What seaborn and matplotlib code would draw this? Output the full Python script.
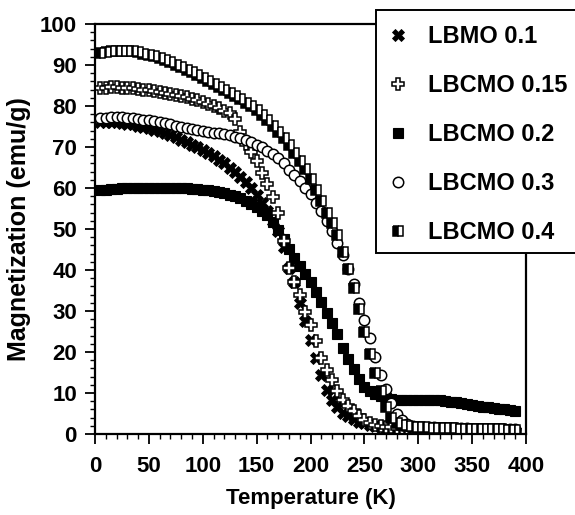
import matplotlib
matplotlib.use("Agg")
import matplotlib.pyplot as plt
from matplotlib.patches import Rectangle
from matplotlib.ticker import MultipleLocator
import seaborn as sns

# ---- data ----
temperature = [5, 10, 15, 20, 25, 30, 35, 40, 45, 50,
               55, 60, 65, 70, 75, 80, 85, 90, 95, 100,
               105, 110, 115, 120, 125, 130, 135, 140, 145, 150,
               155, 160, 165, 170, 175, 180, 185, 190, 195, 200,
               205, 210, 215, 220, 225, 230, 235, 240, 245, 250,
               255, 260, 265, 270, 275, 280, 285, 290, 295, 300,
               305, 310, 315, 320, 325, 330, 335, 340, 345, 350,
               355, 360, 365, 370, 375, 380, 385, 390]

lbmo_01 = [76.0, 76.1, 76.1, 76.0, 75.9, 75.7, 75.5, 75.2, 74.9, 74.6,
           74.2, 73.8, 73.4, 72.9, 72.4, 71.8, 71.2, 70.6, 69.9, 69.2,
           68.5, 67.7, 66.9, 66.0, 65.0, 64.0, 62.8, 61.5, 60.0, 58.3,
           56.4, 54.3, 52.0, 49.5, 45.5, 40.5, 37.0, 32.0, 27.5, 23.0,
           18.5, 14.3, 10.8, 8.3, 6.5, 5.2, 4.3, 3.6, 3.0, 2.6,
           2.2, 1.9, 1.7, 1.5, 1.4, 1.3, 1.2, 1.2, 1.1, 1.1,
           1.1, 1.0, 1.0, 1.0, 1.0, 0.9, 0.9, 0.9, 0.9, 0.9,
           0.9, 0.8, 0.8, 0.8, 0.8, 0.8, 0.8, 0.8]

lbcmo_015 = [84.3, 84.5, 84.6, 84.6, 84.5, 84.4, 84.3, 84.2, 84.0, 83.8,
             83.6, 83.4, 83.2, 83.0, 82.7, 82.4, 82.1, 81.8, 81.4, 81.0,
             80.6, 80.1, 79.5, 78.8, 78.2, 76.8, 73.6, 70.8, 68.8, 66.5,
             63.6, 61.0, 57.8, 54.0, 47.0, 40.5, 37.0, 34.0, 29.8, 26.5,
             22.8, 18.5, 15.6, 13.2, 10.5, 8.3, 6.8, 5.5, 4.5, 3.5,
             2.8, 2.3, 2.0, 1.8, 1.6, 1.5, 1.4, 1.4, 1.3, 1.3,
             1.3, 1.2, 1.2, 1.2, 1.1, 1.1, 1.1, 1.0, 1.0, 1.0,
             1.0, 0.9, 0.9, 0.9, 0.9, 0.9, 0.8, 0.8]

lbcmo_02 = [59.5, 59.6, 59.7, 59.8, 59.9, 59.9, 60.0, 60.0, 60.0, 60.0,
            60.0, 60.0, 60.0, 60.0, 60.0, 59.9, 59.9, 59.8, 59.7, 59.6,
            59.5, 59.3, 59.0, 58.7, 58.4, 58.0, 57.5, 56.9, 56.2, 55.4,
            54.5, 53.3, 51.8, 49.8, 47.5, 45.2, 43.0, 41.0, 39.0, 37.0,
            34.6, 32.2, 29.5, 27.0, 24.3, 21.0, 18.4, 15.8, 13.5, 11.5,
            10.4, 9.8, 9.2, 8.8, 8.5, 8.3, 8.2, 8.2, 8.2, 8.3,
            8.3, 8.3, 8.3, 8.2, 8.1, 7.9, 7.7, 7.5, 7.3, 7.1,
            6.9, 6.7, 6.5, 6.3, 6.1, 6.0, 5.8, 5.7]

lbcmo_03 = [77.0, 77.1, 77.2, 77.2, 77.2, 77.1, 77.0, 76.9, 76.7, 76.5,
            76.3, 76.0, 75.8, 75.5, 75.2, 74.9, 74.6, 74.4, 74.1, 73.9,
            73.7, 73.5, 73.3, 73.2, 72.9, 72.5, 72.1, 71.7, 71.2, 70.6,
            69.9, 69.1, 68.2, 67.2, 66.0, 64.5, 63.1, 61.6, 60.1, 58.5,
            56.4, 54.4, 52.0, 49.5, 46.7, 43.6, 40.3, 36.5, 32.0, 27.8,
            23.4, 18.8, 14.5, 11.0, 7.5, 5.0, 3.3, 2.5, 2.0, 1.8,
            1.7, 1.6, 1.6, 1.5, 1.5, 1.5, 1.4, 1.4, 1.4, 1.3,
            1.3, 1.3, 1.2, 1.2, 1.2, 1.1, 1.1, 1.1]

lbcmo_04 = [92.9, 93.1, 93.3, 93.4, 93.5, 93.4, 93.3, 93.1, 92.8, 92.5,
            92.1, 91.7, 91.2, 90.7, 90.1, 89.5, 88.9, 88.2, 87.5, 86.8,
            86.1, 85.4, 84.7, 84.0, 83.2, 82.4, 81.6, 80.8, 79.9, 79.0,
            77.9, 76.6, 75.2, 73.7, 72.1, 70.4, 68.6, 66.7, 64.6, 62.3,
            59.6, 56.8, 54.0, 51.5, 48.5, 44.5, 40.2, 35.5, 30.5, 25.0,
            19.5, 15.0, 10.5, 6.5, 4.0, 2.8, 2.2, 1.9, 1.7, 1.6,
            1.6, 1.5, 1.5, 1.4, 1.4, 1.4, 1.3, 1.3, 1.3, 1.2,
            1.2, 1.2, 1.1, 1.1, 1.1, 1.0, 1.0, 1.0]

labels = ["LBMO 0.1", "LBCMO 0.15", "LBCMO 0.2", "LBCMO 0.3", "LBCMO 0.4"]
x_ticks = [0, 50, 100, 150, 200, 250, 300, 350, 400]
y_ticks = [0, 10, 20, 30, 40, 50, 60, 70, 80, 90, 100]

# ---- style ----
sns.set_theme(style="ticks")
plt.rcParams["font.family"] = ["Liberation Sans", "DejaVu Sans"]
plt.rcParams["font.weight"] = "bold"
plt.rcParams["axes.labelweight"] = "bold"
plt.rcParams["text.color"] = "black"
plt.rcParams["axes.labelcolor"] = "black"
plt.rcParams["xtick.color"] = "black"
plt.rcParams["ytick.color"] = "black"

W, H = 575, 515
fig = plt.figure(figsize=(W / 100, H / 100), dpi=100)
ax = fig.add_axes([95 / W, 1 - 434 / H, (526 - 95) / W, (434 - 24) / H])

common = dict(linestyle="", color="black", ax=ax)

order = [
    (lbcmo_02, labels[2], dict(marker="s", markersize=7.0, markerfacecolor="black",
                                markeredgecolor="black", markeredgewidth=0.8)),
    (lbmo_01, labels[0], dict(marker="X", markersize=8.5, markerfacecolor="black",
                               markeredgecolor="black", markeredgewidth=0.6)),
    (lbcmo_015, labels[1], dict(marker="P", markersize=8.5, markerfacecolor="white",
                                 markeredgecolor="black", markeredgewidth=1.1)),
    (lbcmo_03, labels[3], dict(marker="o", markersize=7.5, markerfacecolor="white",
                                markeredgecolor="black", markeredgewidth=1.1)),
    (lbcmo_04, labels[4], dict(marker="s", markersize=7.2, markerfacecolor="black",
                                markerfacecoloralt="white", fillstyle="left",
                                markeredgecolor="black", markeredgewidth=1.1)),
]
for vals, lab, kw in order:
    sns.lineplot(x=temperature, y=vals, label=lab, **common, **kw)

ax.set_xlim(0, 400)
ax.set_ylim(0, 100)
ax.set_xticks(x_ticks)
ax.set_yticks(y_ticks)
ax.xaxis.set_minor_locator(MultipleLocator(10))
ax.yaxis.set_minor_locator(MultipleLocator(2))
ax.tick_params(which="major", direction="out", length=7, width=1.3,
               labelsize=16, colors="black", pad=6)
ax.tick_params(which="minor", direction="out", length=3.5, width=1.0, colors="black")
ax.tick_params(axis="x", which="major", pad=9)
for lbl in ax.get_xticklabels() + ax.get_yticklabels():
    lbl.set_fontweight("bold")
for sp in ax.spines.values():
    sp.set_visible(True)
    sp.set_linewidth(1.6)
    sp.set_color("black")

ax.set_xlabel("Temperature (K)", fontsize=16, fontweight="bold", labelpad=8,
              color="black")
ax.set_ylabel("Magnetization (emu/g)", fontsize=18, fontweight="bold", labelpad=6,
              color="black")

# legend box (extends past the right edge, as in the reference)
handles, labs = ax.get_legend_handles_labels()
ax.get_legend().remove()
hmap = dict(zip(labs, handles))
rect = Rectangle((376 / W, 1 - 253 / H), (620 - 376) / W, (253 - 10) / H,
                 transform=fig.transFigure, facecolor="white", edgecolor="black",
                 linewidth=1.4, zorder=5)
fig.patches.append(rect)
leg = fig.legend([hmap[l] for l in labels], labels, loc="upper left",
                 bbox_to_anchor=(387 / W, 1 - 25 / H), frameon=False,
                 handlelength=0.9, handletextpad=0.85,
                 labelspacing=1.1, borderpad=0.0, borderaxespad=0.0,
                 prop={"weight": "bold", "size": 17})
for t in leg.get_texts():
    t.set_color("black")
leg.set_zorder(6)

fig.savefig("out.png", dpi=100)
